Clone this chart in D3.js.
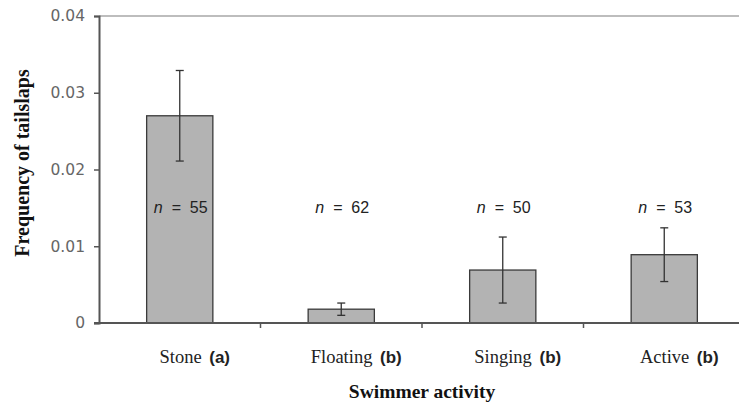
<!DOCTYPE html>
<html>
<head>
<meta charset="utf-8">
<script src="https://cdn.jsdelivr.net/npm/d3@7"></script>
<style>
  html, body { margin: 0; padding: 0; background: #fff; }
  svg { display: block; }
</style>
</head>
<body>
<svg id="chart" width="739" height="406"></svg>
<script>
// Tail-slap frequency by swimmer activity (mean ± error)
const categories = ["Stone", "Floating", "Singing", "Active"];
const groupLetters = ["a", "b", "b", "b"];
const means = [0.0270, 0.0018, 0.0069, 0.0089];
const errors = [0.0059, 0.0008, 0.0043, 0.0035];
const sampleSizes = [55, 62, 50, 53];
const yTicks = [0, 0.01, 0.02, 0.03, 0.04];
const yTickLabels = ["0", "0.01", "0.02", "0.03", "0.04"];

const svg = d3.select("#chart");
const plot = { left: 99, right: 745, top: 16, bottom: 323 };

const x = d3.scaleBand()
  .domain(categories)
  .range([plot.left, plot.right])
  .paddingInner(0.59)
  .paddingOuter(0.295);

const y = d3.scaleLinear().domain([0, 0.04]).range([plot.bottom, plot.top]);

const axisColor = "#555";

// top boundary of the plot area
svg.append("line")
  .attr("x1", plot.left).attr("x2", 739)
  .attr("y1", y(0.04)).attr("y2", y(0.04))
  .attr("stroke", "#bdbdbd").attr("stroke-width", 2);

// bars
svg.append("g").selectAll("rect")
  .data(categories)
  .join("rect")
  .attr("x", d => x(d))
  .attr("y", (d, i) => y(means[i]))
  .attr("width", x.bandwidth())
  .attr("height", (d, i) => y(0) - y(means[i]))
  .attr("fill", "#b3b3b3")
  .attr("stroke", "#3a3a3a")
  .attr("stroke-width", 1.3);

// error bars
const eb = svg.append("g").attr("stroke", "#333").attr("stroke-width", 1.3);
categories.forEach((c, i) => {
  const cx = x(c) + x.bandwidth() / 2;
  const hi = y(means[i] + errors[i]);
  const lo = y(means[i] - errors[i]);
  eb.append("line").attr("x1", cx).attr("x2", cx).attr("y1", hi).attr("y2", lo);
  eb.append("line").attr("x1", cx - 4).attr("x2", cx + 4).attr("y1", hi).attr("y2", hi);
  eb.append("line").attr("x1", cx - 4).attr("x2", cx + 4).attr("y1", lo).attr("y2", lo);
});

// y axis
const yAxis = svg.append("g")
  .attr("transform", `translate(${plot.left},0)`)
  .call(d3.axisLeft(y).tickValues(yTicks)
    .tickFormat((d, i) => yTickLabels[i]).tickSize(5).tickPadding(9));
yAxis.select(".domain").attr("stroke", axisColor).attr("stroke-width", 2);
yAxis.selectAll(".tick line").attr("stroke", axisColor).attr("stroke-width", 1.5);
yAxis.selectAll(".tick text")
  .attr("fill", "#666")
  .style("font-family", "'DejaVu Sans', Tahoma, sans-serif")
  .style("font-size", "15.5px");

// x axis: line with ticks at category boundaries
const xAxisG = svg.append("g");
xAxisG.append("line")
  .attr("x1", plot.left - 5).attr("x2", 739)
  .attr("y1", plot.bottom).attr("y2", plot.bottom)
  .attr("stroke", axisColor).attr("stroke-width", 2);
const step = x.step();
const boundaries = categories.slice(1).map(c => x(c) - (step - x.bandwidth()) / 2);
xAxisG.selectAll(".bt")
  .data(boundaries)
  .join("line")
  .attr("x1", d => d).attr("x2", d => d)
  .attr("y1", plot.bottom).attr("y2", plot.bottom + 5)
  .attr("stroke", axisColor).attr("stroke-width", 1.5);

// category labels with group letters
const labels = svg.append("g").selectAll("text")
  .data(categories)
  .join("text")
  .attr("x", d => x(d) + x.bandwidth() / 2 + 15)
  .attr("y", 363)
  .attr("text-anchor", "middle")
  .attr("fill", "#222");
labels.append("tspan")
  .style("font-family", "'Liberation Serif', 'Times New Roman', serif")
  .style("font-size", "18.5px")
  .text(d => d + " ");
labels.append("tspan")
  .attr("dx", 3)
  .style("font-family", "'Liberation Sans', Arial, sans-serif")
  .style("font-size", "17px")
  .style("font-weight", "bold")
  .text((d, i) => "(" + groupLetters[i] + ")");

// sample size labels
const nl = svg.append("g").selectAll("text")
  .data(categories)
  .join("text")
  .attr("x", d => x(d) + x.bandwidth() / 2 + 1)
  .attr("y", 213)
  .attr("text-anchor", "middle")
  .attr("fill", "#222")
  .style("font-family", "'Liberation Sans', Arial, sans-serif")
  .style("font-size", "16px")
  .style("white-space", "pre");
nl.append("tspan").style("font-style", "italic").text("n");
nl.append("tspan").text((d, i) => "  =  " + sampleSizes[i]);

// axis titles
svg.append("text")
  .attr("x", 422)
  .attr("y", 398)
  .attr("text-anchor", "middle")
  .attr("fill", "#111")
  .style("font-family", "'Liberation Serif', 'Times New Roman', serif")
  .style("font-size", "19.5px")
  .style("font-weight", "bold")
  .text("Swimmer activity");

svg.append("text")
  .attr("transform", "translate(29,163) rotate(-90)")
  .attr("text-anchor", "middle")
  .attr("fill", "#111")
  .style("font-family", "'Liberation Serif', 'Times New Roman', serif")
  .style("font-size", "20px")
  .style("font-weight", "bold")
  .text("Frequency of tailslaps");
</script>
</body>
</html>
